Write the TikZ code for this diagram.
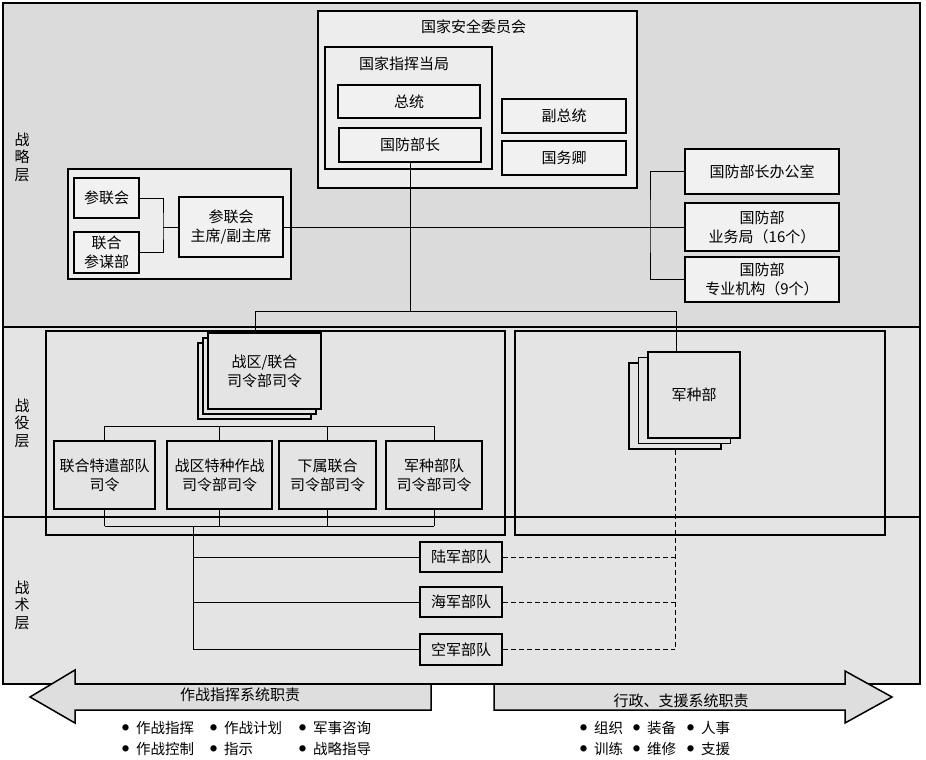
\documentclass[tikz,border=0pt]{standalone}
\usepackage{fontspec}
\setmainfont{Noto Sans CJK SC}
\definecolor{stratbg}{HTML}{DBDBDB}
\definecolor{layerbg}{HTML}{E4E4E4}
\definecolor{boxbg}{HTML}{F1F1F1}
\definecolor{panelbg}{HTML}{EDEDED}
\definecolor{arrowbg}{HTML}{DEDEDE}
\newcommand{\dotmark}{\raisebox{2.6pt}{\fontsize{7}{7}\selectfont ●}\hspace{7pt}}
\begin{document}
\begin{tikzpicture}[x=1pt,y=-1pt,
    every node/.style={font=\fontsize{15}{19}\selectfont, inner sep=0pt, align=center},
    unit/.style={draw, line width=1.8pt, fill=boxbg},
    card/.style={unit, fill=layerbg},
    panel/.style={draw, line width=1.6pt},
    link/.style={line width=1pt},
    dlink/.style={link, dash pattern=on 5pt off 3pt},
    layerlabel/.style={font=\fontsize{15}{17.5}\selectfont},
    item/.style={anchor=west, font=\fontsize{14.5}{17}\selectfont}]
    \useasboundingbox (0,0) rectangle (926,760);
    % three layers
    \draw[line width=2pt, fill=stratbg] (3,3) rectangle (920,327);
    \draw[line width=2pt, fill=layerbg] (3,327) rectangle (920,517);
    \draw[line width=2pt, fill=layerbg] (3,517) rectangle (920,684);
    \node[layerlabel] (lstrat) at (22,157) {战\\略\\层};
    \node[layerlabel] (lops) at (22,423) {战\\役\\层};
    \node[layerlabel] (ltac) at (22,605) {战\\术\\层};

    % national security council
    \node[panel, fill=panelbg, minimum width=319pt, minimum height=177pt] (nsc) at (477.5,99.5) {};
    \node (nsctitle) at (473.5,27) {国家安全委员会};
    \node[panel, fill=panelbg, minimum width=167pt, minimum height=122pt] (nca) at (408.5,108) {};
    \node (ncatitle) at (404,64) {国家指挥当局};
    \node[unit, minimum width=142pt, minimum height=33pt] (pres) at (409,101.5) {总统};
    \node[unit, minimum width=142pt, minimum height=34pt] (secdef) at (410,145) {国防部长};
    \node[unit, minimum width=124pt, minimum height=34pt] (vp) at (564,116) {副总统};
    \node[unit, minimum width=124pt, minimum height=34pt] (sos) at (564,158) {国务卿};

    % joint chiefs
    \node[panel, fill=panelbg, line width=2pt, minimum width=223pt, minimum height=110pt] (jgroup) at (179.5,224) {};
    \node[unit, minimum width=65pt, minimum height=40pt] (jcs) at (106.5,198) {参联会};
    \node[unit, minimum width=65pt, minimum height=41pt] (jstaff) at (106.5,252.5) {联合\\参谋部};
    \node[unit, minimum width=104pt, minimum height=60pt] (cjcs) at (231,227) {参联会\\主席/副主席};
    \coordinate (jfork) at (163,227);
    \draw[link] (jcs.east) -| (jfork) |- (jstaff.east);
    \draw[link] (jfork) -- (cjcs.west);

    % defense department offices
    \node[unit, minimum width=154pt, minimum height=45pt] (osd) at (762,171.5) {国防部长办公室};
    \node[unit, minimum width=154pt, minimum height=48pt] (agency) at (762,227) {国防部\\业务局（16个）};
    \node[unit, minimum width=154pt, minimum height=45pt] (field) at (762,279.5) {国防部\\专业机构（9个）};
    \coordinate (obus) at (650,227);
    \draw[link] (osd.west) -| (obus) |- (field.west);
    \draw[link] (cjcs.east) -- (agency.west);

    % campaign layer
    \node[panel, minimum width=459pt, minimum height=204pt] (opsframe) at (275.5,433) {};
    \node[panel, minimum width=370pt, minimum height=204pt] (svcframe) at (700,433) {};
    \foreach \d/\nm in {10/theaterc, 5/theaterb}
        \node[card, minimum width=113pt, minimum height=76pt] (\nm) at (264.5-\d,371+\d) {};
    \node[card, minimum width=113pt, minimum height=76pt] (theater) at (264.5,371) {战区/联合\\司令部司令};
    \foreach \dx/\dy/\nm in {19/11/svcc, 9.5/5.5/svcb}
        \node[card, minimum width=92pt, minimum height=86pt] (\nm) at (694-\dx,395+\dy) {};
    \node[card, minimum width=92pt, minimum height=86pt] (svc) at (694,395) {军种部};

    % chain from the secretary down
    \coordinate (spine) at (410,311);
    \coordinate (tdrop) at (255,311);
    \coordinate (sdrop) at (676,311);
    \draw[link] (secdef.south) -- (spine);
    \draw[link] (tdrop |- theater.north) -- (tdrop) -- (sdrop) -- (sdrop |- svc.north);

    \node[card, minimum width=101pt, minimum height=68pt] (jtf) at (104.5,475) {联合特遣部队\\司令};
    \node[card, minimum width=105pt, minimum height=68pt] (tsoc) at (219.5,475) {战区特种作战\\司令部司令};
    \node[card, minimum width=97pt, minimum height=68pt] (subcmd) at (327.5,475) {下属联合\\司令部司令};
    \node[card, minimum width=96pt, minimum height=68pt] (compcmd) at (434,475) {军种部队\\司令部司令};
    \foreach \n in {jtf,tsoc,subcmd,compcmd} {
        \draw[link] (\n.north) -- (\n.north |- 0,426);
        \draw[link] (\n.south) -- (\n.south |- 0,526);
    }
    \draw[link] (jtf.north |- 0,426) -- (compcmd.north |- 0,426);
    \draw[link] (jtf.south |- 0,526) -- (compcmd.south |- 0,526);

    % tactical layer
    \node[card, minimum width=82pt, minimum height=30pt] (army) at (461,557) {陆军部队};
    \node[card, minimum width=82pt, minimum height=30pt] (navy) at (461,602) {海军部队};
    \node[card, minimum width=82pt, minimum height=31pt] (airf) at (461,649.5) {空军部队};
    \coordinate (tacspine) at (193,526);
    \foreach \n in {army,navy,airf} {
        \draw[link] (tacspine) |- (\n.west);
        \draw[dlink] (\n.east) -- (\n.east -| svcc.south);
    }
    \draw[dlink] (svcc.south) -- (svcc.south |- airf.east);

    % responsibility arrows
    \draw[line width=1.5pt, fill=arrowbg] (431,684) -- (75,684) -- (75,670) -- (30,697) -- (75,723) -- (75,710) -- (431,710) -- cycle;
    \draw[line width=1.5pt, fill=arrowbg] (494,684) -- (845,684) -- (845,671) -- (892,697) -- (845,723) -- (845,710) -- (494,710) -- cycle;
    \node (cmdresp) at (240,695) {作战指挥系统职责};
    \node (admresp) at (681,701) {行政、支援系统职责};
    \foreach \txt/\x/\y/\nm in {作战指挥/122/728/ba, 作战计划/210/728/bb, 军事咨询/299/728/bc,
                               作战控制/122/749/bd, 指示/210/749/be, 战略指导/299/749/bf,
                               组织/580/728/bg, 装备/633/728/bh, 人事/687/728/bi,
                               训练/580/749/bj, 维修/633/749/bk, 支援/687/749/bl}
        \node[item] (\nm) at (\x,\y) {\dotmark\txt};
\end{tikzpicture}
\end{document}
